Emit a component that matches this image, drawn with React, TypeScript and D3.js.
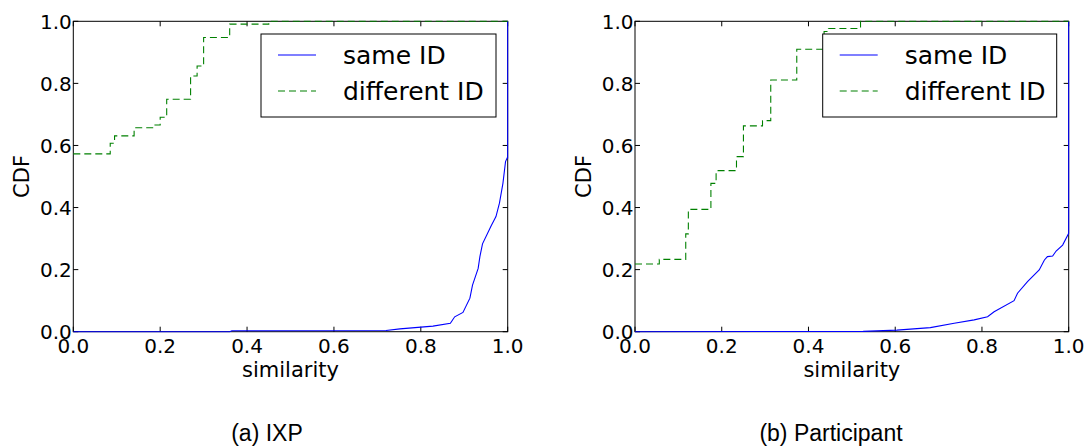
import React from "react";
import * as d3 from "d3";

// CDF of similarity scores, two panels: IXP and Participant
const ticks = [0, 0.2, 0.4, 0.6, 0.8, 1.0];
const tickLabels = ["0.0", "0.2", "0.4", "0.6", "0.8", "1.0"];
const seriesNames = ["same ID", "different ID"];

// (a) IXP: different ID (step CDF)
const ixpDiffX = [0, 0.085, 0.095, 0.14, 0.185, 0.2, 0.215, 0.27, 0.285, 0.3, 0.36, 0.45, 1.0];
const ixpDiffY = [0.573, 0.607, 0.631, 0.657, 0.666, 0.691, 0.749, 0.824, 0.856, 0.948, 0.991, 1.0, 1.0];

// (a) IXP: same ID
const ixpSameX = [0, 0.36, 0.365, 0.72, 0.752, 0.828, 0.868, 0.878, 0.897, 0.913, 0.919, 0.932, 0.936, 0.942, 0.962, 0.973, 0.981, 0.989, 0.995, 0.999, 1.0, 1.0];
const ixpSameY = [0, 0, 0.003, 0.004, 0.009, 0.018, 0.027, 0.048, 0.062, 0.108, 0.15, 0.204, 0.242, 0.283, 0.341, 0.371, 0.414, 0.478, 0.548, 0.56, 0.56, 1.0];

// (b) Participant: different ID (step CDF)
const partDiffX = [0, 0.056, 0.117, 0.123, 0.175, 0.187, 0.234, 0.25, 0.294, 0.313, 0.373, 0.436, 0.446, 0.52, 1.0];
const partDiffY = [0.218, 0.233, 0.315, 0.394, 0.478, 0.519, 0.564, 0.663, 0.68, 0.811, 0.91, 0.967, 0.977, 1.0, 1.0];

// (b) Participant: same ID
const partSameX = [0, 0.526, 0.604, 0.681, 0.736, 0.782, 0.813, 0.828, 0.874, 0.882, 0.905, 0.932, 0.944, 0.951, 0.963, 0.971, 0.986, 1.0, 1.0];
const partSameY = [0, 0.001, 0.005, 0.013, 0.027, 0.038, 0.048, 0.064, 0.1, 0.124, 0.161, 0.199, 0.231, 0.242, 0.244, 0.26, 0.279, 0.317, 1.0];

const BLUE = "#0000ff";
const GREEN = "#008000";
const TICK_FONT = "'DejaVu Sans', sans-serif";

type PanelProps = {
  left: number;
  right: number;
  sameX: number[];
  sameY: number[];
  diffX: number[];
  diffY: number[];
  legendLeft: number;
  legendRight: number;
  caption: string;
  captionX: number;
  ylabelX: number;
};

function Panel(p: PanelProps) {
  const top = 21.3;
  const bottom = 331.7;
  const x = d3.scaleLinear().domain([0, 1]).range([p.left, p.right]);
  const y = d3.scaleLinear().domain([0, 1]).range([bottom, top]);

  const sameLine = d3
    .line<number>()
    .x((_, i) => x(p.sameX[i]))
    .y((d) => y(d))
    .curve(d3.curveLinear);
  const diffLine = d3
    .line<number>()
    .x((_, i) => x(p.diffX[i]))
    .y((d) => y(d))
    .curve(d3.curveStepAfter);

  const tl = 5;
  const clipId = `clip-${Math.round(p.left)}`;
  const legTop = 34;
  const legBottom = 117;
  const rowY = [55, 91];

  return (
    <g>
      <defs>
        <clipPath id={clipId}>
          <rect x={p.left - 1} y={top - 1} width={p.right - p.left + 2} height={bottom - top + 2} />
        </clipPath>
      </defs>
      {/* frame */}
      <rect x={p.left} y={top} width={p.right - p.left} height={bottom - top} fill="none" stroke="#000" strokeWidth={1} />
      {/* inward ticks on all four sides */}
      {ticks.map((t, i) => (
        <g key={`t${i}`} stroke="#000" strokeWidth={1}>
          <line x1={x(t)} x2={x(t)} y1={bottom} y2={bottom - tl} />
          <line x1={x(t)} x2={x(t)} y1={top} y2={top + tl} />
          <line x1={p.left} x2={p.left + tl} y1={y(t)} y2={y(t)} />
          <line x1={p.right} x2={p.right - tl} y1={y(t)} y2={y(t)} />
        </g>
      ))}
      {/* curves drawn over the frame */}
      <g clipPath={`url(#${clipId})`}>
        <path d={sameLine(p.sameY) || ""} fill="none" stroke={BLUE} strokeWidth={1.1} />
        <path d={diffLine(p.diffY) || ""} fill="none" stroke={GREEN} strokeWidth={1.1} strokeDasharray="7,4" />
      </g>
      {ticks.map((t, i) => (
        <text key={`xl${i}`} x={x(t)} y={352.5} textAnchor="middle" fontFamily={TICK_FONT} fontSize={20} fill="#000">
          {tickLabels[i]}
        </text>
      ))}
      {ticks.map((t, i) => (
        <text key={`yl${i}`} x={p.left - 1.5} y={y(t)} dy="0.36em" textAnchor="end" fontFamily={TICK_FONT} fontSize={20} fill="#000">
          {tickLabels[i]}
        </text>
      ))}
      <text x={(p.left + p.right) / 2} y={377} textAnchor="middle" fontFamily={TICK_FONT} fontSize={21} fill="#000">
        similarity
      </text>
      <text
        transform={`translate(${p.ylabelX},${(top + bottom) / 2}) rotate(-90)`}
        textAnchor="middle"
        dy="0.36em"
        fontFamily={TICK_FONT}
        fontSize={21}
        fill="#000"
      >
        CDF
      </text>
      {/* legend */}
      <rect x={p.legendLeft} y={legTop} width={p.legendRight - p.legendLeft} height={legBottom - legTop} fill="#fff" stroke="#000" strokeWidth={1} />
      <line x1={p.legendLeft + 17} x2={p.legendLeft + 55} y1={rowY[0]} y2={rowY[0]} stroke={BLUE} strokeWidth={1.1} />
      <line x1={p.legendLeft + 17} x2={p.legendLeft + 55} y1={rowY[1]} y2={rowY[1]} stroke={GREEN} strokeWidth={1.1} strokeDasharray="7,4" />
      {seriesNames.map((n, i) => (
        <text key={n} x={p.legendLeft + 82} y={rowY[i]} dy="0.36em" fontFamily={TICK_FONT} fontSize={25} fill="#000">
          {n}
        </text>
      ))}
      <text x={p.captionX} y={441} textAnchor="middle" fontFamily="'Liberation Sans', Arial, sans-serif" fontSize={23} fill="#000">
        {p.caption}
      </text>
    </g>
  );
}

export default function App() {
  return (
    <svg
      width={1089}
      height={448}
      viewBox="0 0 1089 448"
      style={{ position: "absolute", left: 0, top: 0, background: "#fff" }}
    >
      <rect x={0} y={0} width={1089} height={448} fill="#fff" />
      <Panel
        left={73.3}
        right={507.7}
        sameX={ixpSameX}
        sameY={ixpSameY}
        diffX={ixpDiffX}
        diffY={ixpDiffY}
        legendLeft={261}
        legendRight={496}
        caption="(a) IXP"
        captionX={267}
        ylabelX={21}
      />
      <Panel
        left={635}
        right={1068.7}
        sameX={partSameX}
        sameY={partSameY}
        diffX={partDiffX}
        diffY={partDiffY}
        legendLeft={822.7}
        legendRight={1056.7}
        caption="(b) Participant"
        captionX={831}
        ylabelX={583}
      />
    </svg>
  );
}
